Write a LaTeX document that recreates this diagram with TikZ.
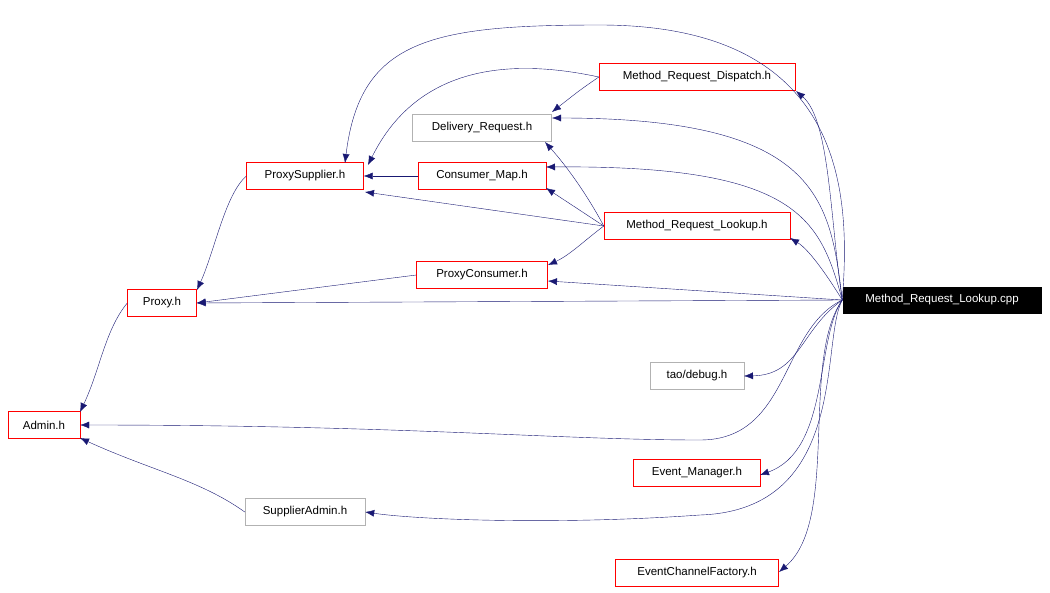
\documentclass[tikz,border=0pt]{standalone}
\usepackage{fontspec}
\setmainfont{Liberation Sans}
\usetikzlibrary{arrows.meta,positioning}
\definecolor{edgeblue}{rgb}{0.1,0.1,0.45}
\begin{document}
\begin{tikzpicture}[x=1pt,y=-1pt,font=\fontsize{11.5}{13}\selectfont]
\tikzstyle{hdr}=[draw=red,rectangle,inner sep=0pt,minimum height=27pt]
\tikzstyle{plain}=[draw=black!30,rectangle,inner sep=0pt,minimum height=27pt]
\tikzstyle{dep}=[edgeblue,-{Latex[length=9pt,width=7pt]}]
\useasboundingbox (0,0) rectangle (1050,592);
\node [fill=black,text=white,minimum width=199pt,minimum height=27pt,inner sep=0pt] at (942,300) (cpp) {Method\_Request\_Lookup.cpp};
\node [hdr,minimum width=196pt] at (697,77) (disp) {Method\_Request\_Dispatch.h};
\node [plain,minimum width=139pt] at (482,128) (deliv) {Delivery\_Request.h};
\node [hdr,minimum width=117pt] at (305,176) (psup) {ProxySupplier.h};
\node [hdr,minimum width=128pt] at (482,176) (cmap) {Consumer\_Map.h};
\node [hdr,minimum width=186pt] at (697,226) (look) {Method\_Request\_Lookup.h};
\node [hdr,minimum width=131pt] at (482,275) (pcons) {ProxyConsumer.h};
\node [hdr,minimum width=69pt] at (162,303) (proxy) {Proxy.h};
\node [plain,minimum width=94pt] at (697,376) (debug) {tao/debug.h};
\node [hdr,minimum width=72pt] at (44,425) (admin) {Admin.h};
\node [hdr,minimum width=127pt] at (697,473) (evm) {Event\_Manager.h};
\node [plain,minimum width=120pt] at (305,512) (sadm) {SupplierAdmin.h};
\node [hdr,minimum width=163pt] at (697,573) (ecf) {EventChannelFactory.h};
% from the cpp file
\draw [dep] (cpp.west) .. controls (850,200) and (850,25) .. (600,25) .. controls (430,25) and (360,40) .. (345,163);
\draw [dep] (cpp.west) .. controls (830,220) and (830,120) .. (796,91);
\draw [dep] (cpp.west) .. controls (830,200) and (820,118) .. (552,118);
\draw [dep] (cpp.west) .. controls (820,220) and (800,165) .. (546,167);
\draw [dep] (cpp.west) .. controls (830,280) and (810,250) .. (790,238);
\draw [dep] (cpp.west) -- (548,281);
\draw [dep] (cpp.west) -- (proxy.east);
\draw [dep] (cpp.west) .. controls (800,330) and (800,375) .. (744,376);
\draw [dep] (cpp.west) .. controls (780,330) and (790,440) .. (700,440) .. controls (560,440) and (400,425) .. (admin.east);
\draw [dep] (cpp.west) .. controls (815,340) and (830,450) .. (760,475);
\draw [dep] (cpp.west) .. controls (820,340) and (850,510) .. (700,515) .. controls (560,525) and (420,520) .. (sadm.east);
\draw [dep] (cpp.west) .. controls (800,360) and (840,520) .. (779,572);
% between headers
\draw [dep] (disp.west) .. controls (580,90) .. (552,112);
\draw [dep] (disp.west) .. controls (520,60) and (420,60) .. (368,165);
\draw [dep] (cmap.west) -- (psup.east);
\draw [dep] (look.west) .. controls (590,200) and (570,170) .. (545,142);
\draw [dep] (look.west) -- (546,188);
\draw [dep] (look.west) -- (365,192);
\draw [dep] (look.west) .. controls (585,240) and (570,255) .. (548,265);
\draw [dep] (psup.west) .. controls (225,195) and (215,250) .. (197,290);
\draw [dep] (pcons.west) -- (proxy.east);
\draw [dep] (proxy.west) .. controls (105,330) and (100,370) .. (80,412);
\draw [dep] (sadm.west) .. controls (200,480) and (150,470) .. (80,438);
\end{tikzpicture}
\end{document}
